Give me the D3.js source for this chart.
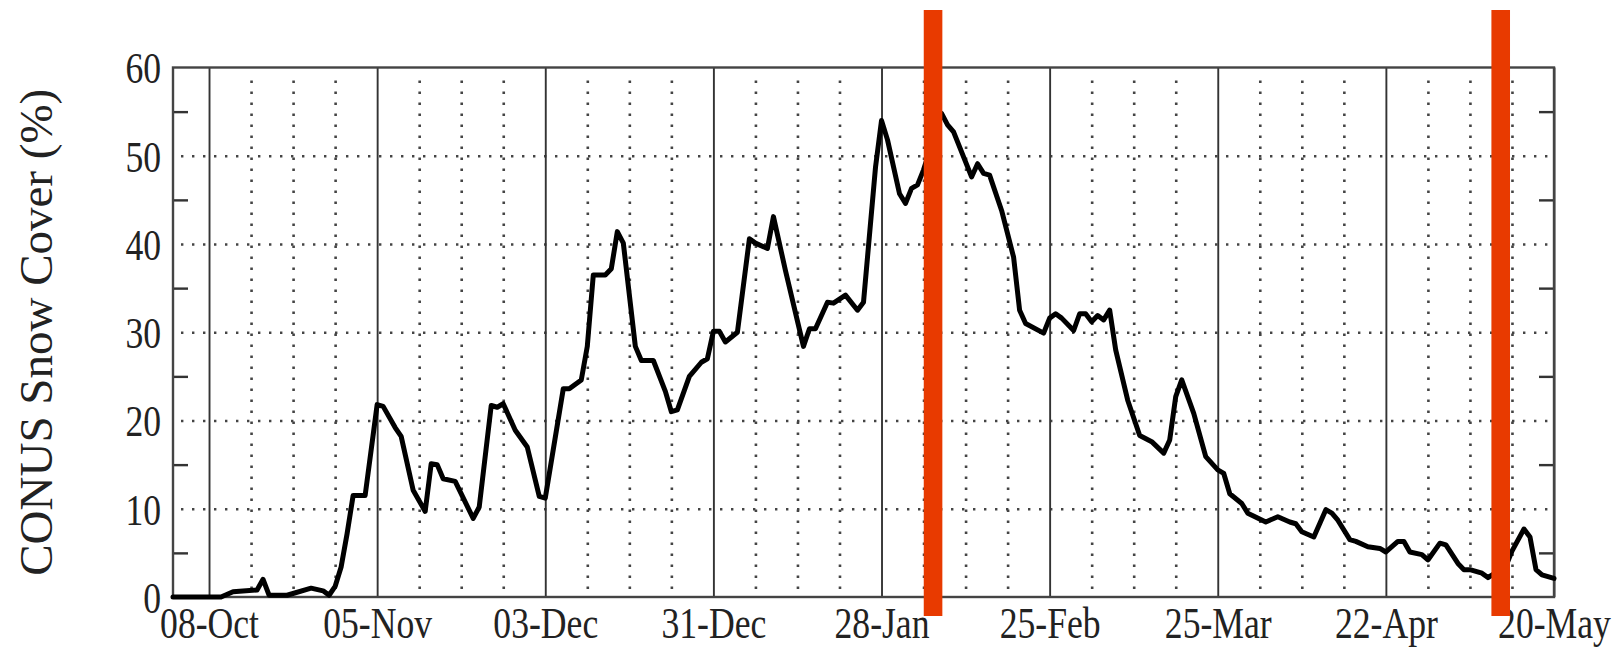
<!DOCTYPE html>
<html>
<head>
<meta charset="utf-8">
<script src="https://cdn.jsdelivr.net/npm/d3@7"></script>
<style>
  html, body { margin: 0; padding: 0; background: #fff; }
  svg { display: block; }
  text { font-family: "Liberation Serif", "Times New Roman", serif; fill: #222; }
</style>
</head>
<body>
<svg id="chart" width="1619" height="650"></svg>
<script>
// Daily CONUS snow cover (%), sampled at the turning points of the curve
const dates = [
  "2010-10-02","2010-10-10","2010-10-12","2010-10-16","2010-10-17","2010-10-18","2010-10-21",
  "2010-10-25","2010-10-27","2010-10-28","2010-10-29","2010-10-30","2010-10-31","2010-11-01",
  "2010-11-03","2010-11-05","2010-11-06","2010-11-08","2010-11-09","2010-11-11","2010-11-13",
  "2010-11-14","2010-11-15","2010-11-16","2010-11-18","2010-11-21","2010-11-22","2010-11-24",
  "2010-11-25","2010-11-26","2010-11-28","2010-11-30","2010-12-02","2010-12-03","2010-12-06",
  "2010-12-07","2010-12-09","2010-12-10","2010-12-11","2010-12-13","2010-12-14","2010-12-15",
  "2010-12-16","2010-12-18","2010-12-19","2010-12-21","2010-12-23","2010-12-24","2010-12-25",
  "2010-12-27","2010-12-29","2010-12-30","2010-12-31","2011-01-01","2011-01-02","2011-01-04",
  "2011-01-06","2011-01-07","2011-01-09","2011-01-10","2011-01-12","2011-01-15","2011-01-16",
  "2011-01-17","2011-01-19","2011-01-20","2011-01-22","2011-01-24","2011-01-25","2011-01-27",
  "2011-01-28","2011-01-29","2011-01-31","2011-02-01","2011-02-02","2011-02-03","2011-02-04",
  "2011-02-07","2011-02-08","2011-02-09","2011-02-12","2011-02-13","2011-02-14","2011-02-15",
  "2011-02-17","2011-02-19","2011-02-20","2011-02-21","2011-02-24","2011-02-25","2011-02-26",
  "2011-02-27","2011-03-01","2011-03-02","2011-03-03","2011-03-04","2011-03-05","2011-03-06",
  "2011-03-07","2011-03-08","2011-03-10","2011-03-12","2011-03-14","2011-03-16","2011-03-17",
  "2011-03-18","2011-03-19","2011-03-21","2011-03-23","2011-03-25","2011-03-26","2011-03-27",
  "2011-03-29","2011-03-30","2011-04-02","2011-04-04","2011-04-06","2011-04-07","2011-04-08",
  "2011-04-10","2011-04-12","2011-04-13","2011-04-14","2011-04-16","2011-04-17","2011-04-19",
  "2011-04-21","2011-04-22","2011-04-24","2011-04-25","2011-04-26","2011-04-28","2011-04-29",
  "2011-05-01","2011-05-02","2011-05-04","2011-05-05","2011-05-06","2011-05-08","2011-05-09",
  "2011-05-12","2011-05-13","2011-05-15","2011-05-16","2011-05-17","2011-05-18","2011-05-20"
];
const snowCover = [
  0, 0, 0.6, 0.8, 2.0, 0.2, 0.2,
  1.0, 0.7, 0.2, 1.2, 3.4, 7.2, 11.5,
  11.5, 21.8, 21.6, 19.2, 18.2, 12.1, 9.7,
  15.1, 15.0, 13.4, 13.1, 8.9, 10.2, 21.7,
  21.5, 21.9, 18.9, 17.0, 11.4, 11.2, 23.6,
  23.6, 24.6, 28.4, 36.5, 36.5, 37.2, 41.4,
  40.1, 28.4, 26.8, 26.8, 23.3, 21.0, 21.2,
  25.0, 26.6, 27.0, 30.1, 30.1, 28.9, 30.0,
  40.6, 40.1, 39.5, 43.1, 37.0, 28.4, 30.4,
  30.4, 33.4, 33.3, 34.2, 32.5, 33.4, 48.7,
  54.0, 51.8, 45.7, 44.6, 46.3, 46.7, 48.4,
  54.8, 53.5, 52.7, 47.6, 49.1, 48.0, 47.8,
  43.8, 38.5, 32.5, 31.0, 29.9, 31.6, 32.1,
  31.6, 30.2, 32.1, 32.1, 31.2, 31.9, 31.4,
  32.5, 28.0, 22.3, 18.3, 17.6, 16.3, 17.8,
  22.7, 24.6, 20.8, 15.9, 14.4, 14.0, 11.7,
  10.6, 9.5, 8.5, 9.1, 8.5, 8.3, 7.4,
  6.8, 9.9, 9.5, 8.7, 6.5, 6.3, 5.7,
  5.5, 5.1, 6.3, 6.3, 5.1, 4.8, 4.2,
  6.1, 5.9, 3.8, 3.1, 3.1, 2.7, 2.2,
  3.5, 5.2, 7.7, 6.8, 3.1, 2.5, 2.1
];

// Axis extent and labelled ticks
const xDomain = ["2010-10-02", "2011-05-20"];
const xTickDates = ["2010-10-08","2010-11-05","2010-12-03","2010-12-31",
                    "2011-01-28","2011-02-25","2011-03-25","2011-04-22","2011-05-20"];
const yTicks = [0, 10, 20, 30, 40, 50, 60];
const yMinorTicks = [5, 15, 25, 35, 45, 55];
const yLabel = "CONUS Snow Cover (%)";

// Highlighted dates (red vertical markers)
const markerDates = ["2011-02-05T14:00", "2011-05-11T03:00"];

const parse = d3.isoParse;
const fmt = d3.utcFormat("%d-%b");

const svg = d3.select("#chart");
const W = 1619, H = 650;
const margin = { left: 173, right: 65, top: 67.5, bottom: 53 };
const x0 = margin.left, x1 = W - margin.right;
const y0 = H - margin.bottom, y1 = margin.top;
const plotH = y0 - y1;

const x = d3.scaleUtc().domain(xDomain.map(parse)).range([x0, x1]);
const y = d3.scaleLinear().domain([0, 60]).range([y0, y1]);

const labelFont = 44, labelSqueeze = 0.81;

// Weekly dotted grid, on the 7-day cycle of the labelled ticks (labelled dates get solid lines)
const first = parse(xTickDates[0]);
const labelled = new Set(xTickDates.map(d => +parse(d)));
const weeklyDates = d3.range(-7, 240, 7)
  .map(k => d3.utcDay.offset(first, k))
  .filter(d => d > x.domain()[0] && d < x.domain()[1] && !labelled.has(+d));

const dotColor = "#444", dotWidth = 2.6, dotDash = "2.4,8.6";

const gWeek = svg.append("g")
  .attr("transform", `translate(0,${y0})`)
  .call(d3.axisBottom(x).tickValues(weeklyDates).tickSize(-plotH).tickFormat(""));
gWeek.select(".domain").remove();
gWeek.selectAll("line")
  .attr("stroke", dotColor).attr("stroke-width", dotWidth)
  .attr("stroke-dasharray", dotDash)
  .attr("y1", -8).attr("y2", -plotH + 10);

// Horizontal dotted grid
const gYGrid = svg.append("g")
  .attr("transform", `translate(${x0},0)`)
  .call(d3.axisLeft(y).tickValues(yTicks.filter(v => v > 0 && v < 60)).tickSize(-(x1 - x0)).tickFormat(""));
gYGrid.select(".domain").remove();
gYGrid.selectAll("line")
  .attr("stroke", dotColor).attr("stroke-width", dotWidth)
  .attr("stroke-dasharray", dotDash)
  .attr("x1", 8).attr("x2", x1 - x0);

// Solid 4-week lines with date labels
const gX = svg.append("g")
  .attr("transform", `translate(0,${y0})`)
  .call(d3.axisBottom(x).tickValues(xTickDates.map(parse)).tickSize(-plotH).tickFormat(fmt).tickPadding(0));
gX.select(".domain").remove();
gX.selectAll("line").attr("stroke", "#333").attr("stroke-width", 1.9);
gX.selectAll("text")
  .attr("y", 41).attr("dy", 0)
  .attr("font-size", labelFont)
  .attr("transform", `scale(${labelSqueeze},1)`)
  .attr("fill", "#222");

// Left axis labels and minor ticks
const gY = svg.append("g")
  .attr("transform", `translate(${x0},0)`)
  .call(d3.axisLeft(y).tickValues(yTicks).tickSize(0).tickPadding(0));
gY.select(".domain").remove();
gY.selectAll("text")
  .attr("x", -12 / labelSqueeze).attr("dy", "0.35em")
  .attr("font-size", labelFont)
  .attr("transform", `scale(${labelSqueeze},1)`)
  .attr("fill", "#222");

const gMinorL = svg.append("g").attr("transform", `translate(${x0},0)`)
  .call(d3.axisRight(y).tickValues(yMinorTicks).tickSize(15).tickFormat(""));
gMinorL.select(".domain").remove();
gMinorL.selectAll("line").attr("stroke", "#333").attr("stroke-width", 2.4);

const gMinorR = svg.append("g").attr("transform", `translate(${x1},0)`)
  .call(d3.axisLeft(y).tickValues(yMinorTicks).tickSize(15).tickFormat(""));
gMinorR.select(".domain").remove();
gMinorR.selectAll("line").attr("stroke", "#333").attr("stroke-width", 2.4);

// Plot frame
svg.append("rect")
  .attr("x", x0).attr("y", y1).attr("width", x1 - x0).attr("height", plotH)
  .attr("fill", "none").attr("stroke", "#444").attr("stroke-width", 2.4);

// Y-axis title
svg.append("text")
  .attr("transform", `translate(52,${(y0 + y1) / 2}) rotate(-90)`)
  .attr("text-anchor", "middle")
  .attr("font-size", 47)
  .attr("fill", "#222")
  .text(yLabel);

// Snow cover curve
const series = dates.map((d, i) => ({ date: parse(d), value: snowCover[i] }));
const line = d3.line().x(d => x(d.date)).y(d => y(d.value));
svg.append("path")
  .datum(series)
  .attr("fill", "none")
  .attr("stroke", "#000")
  .attr("stroke-width", 5)
  .attr("stroke-linejoin", "round")
  .attr("stroke-linecap", "round")
  .attr("d", line);

// Red date markers
svg.selectAll("rect.marker")
  .data(markerDates.map(parse))
  .join("rect")
  .attr("class", "marker")
  .attr("x", d => x(d) - 9.3)
  .attr("width", 18.6)
  .attr("y", 10)
  .attr("height", 606)
  .attr("fill", "#E83A00");
</script>
</body>
</html>
